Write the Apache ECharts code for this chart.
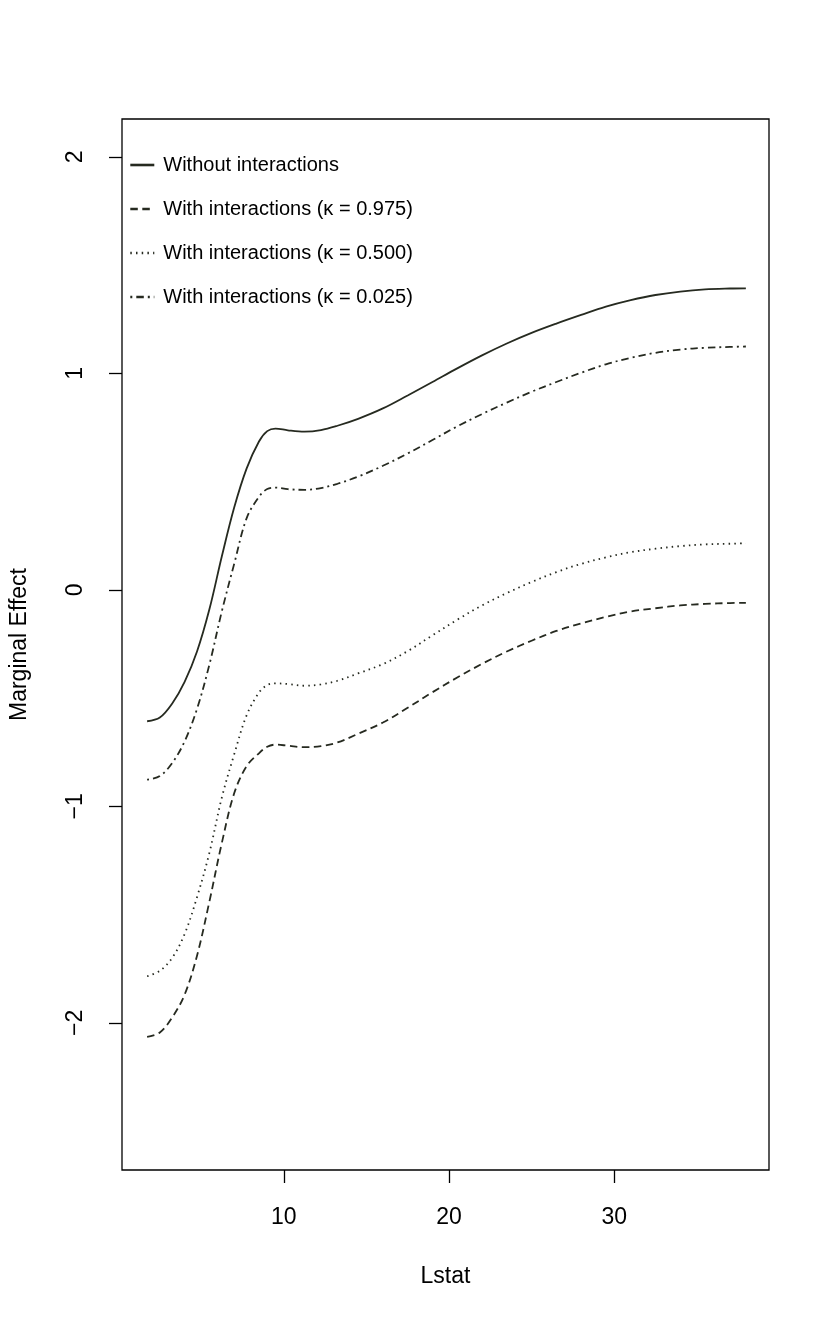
<!DOCTYPE html>
<html>
<head>
<meta charset="utf-8">
<title>Marginal Effect vs Lstat</title>
<script src="https://cdn.jsdelivr.net/npm/echarts@6.0.0/dist/echarts.min.js"></script>
<style>
    html, body { margin: 0; padding: 0; background: #fff; }
    #chart { width: 830px; height: 1322px; }
</style>
</head>
<body>
<div id="chart"></div>
<script>
// values
var lstat = [1.73, 2.5, 3.25, 4, 4.75, 5.5, 6.25, 7, 7.75, 8.5, 9, 9.5, 10.25, 11.25, 12.25, 13.25,
    14.5, 16, 17.5, 19, 20.5, 22, 23.5, 25, 26.5, 28, 29.5, 31, 32.5, 34, 35.5, 37, 37.97];

var noInteraction = [-0.607, -0.59, -0.525, -0.425, -0.285, -0.09, 0.154, 0.38, 0.56, 0.685, 0.733, 0.745,
    0.737, 0.731, 0.738, 0.758, 0.79, 0.838, 0.898, 0.96, 1.023, 1.083, 1.138, 1.187, 1.23, 1.27, 1.308,
    1.338, 1.362, 1.378, 1.388, 1.392, 1.393];

var kappa975 = [-2.065, -2.045, -1.975, -1.87, -1.69, -1.44, -1.17, -0.94, -0.815, -0.755, -0.725, -0.715,
    -0.72, -0.727, -0.722, -0.705, -0.665, -0.613, -0.545, -0.473, -0.405, -0.342, -0.285, -0.235, -0.19,
    -0.155, -0.125, -0.1, -0.085, -0.072, -0.065, -0.061, -0.06];

var kappa500 = [-1.785, -1.76, -1.7, -1.59, -1.42, -1.215, -0.96, -0.76, -0.58, -0.475, -0.44, -0.432,
    -0.435, -0.443, -0.437, -0.42, -0.386, -0.343, -0.283, -0.21, -0.138, -0.072, -0.015, 0.036, 0.082,
    0.12, 0.15, 0.174, 0.19, 0.202, 0.21, 0.213, 0.215];

var kappa025 = [-0.877, -0.86, -0.8, -0.7, -0.55, -0.345, -0.1, 0.12, 0.33, 0.43, 0.466, 0.472, 0.465,
    0.462, 0.47, 0.49, 0.523, 0.573, 0.63, 0.692, 0.755, 0.812, 0.865, 0.915, 0.96, 1.003, 1.042, 1.072,
    1.095, 1.11, 1.118, 1.122, 1.124];

var xTicks = [10, 20, 30];
var yTicks = [-2, -1, 0, 1, 2];

var seriesNames = [
    'Without interactions',
    'With interactions (\u03BA = 0.975)',
    'With interactions (\u03BA = 0.500)',
    'With interactions (\u03BA = 0.025)'
];

var FONT = '"Liberation Sans", Arial, Helvetica, sans-serif';
var INK = '#262a20';

function pairs(ys) {
    var out = [];
    for (var i = 0; i < lstat.length; i++) {
        out.push([lstat[i], ys[i]]);
    }
    return out;
}

function curve(name, ys, dash) {
    return {
        name: name,
        type: 'line',
        data: pairs(ys),
        smooth: 0.35,
        symbol: 'none',
        showSymbol: false,
        animation: false,
        lineStyle: { color: INK, width: 1.8, type: dash },
        itemStyle: { color: INK }
    };
}

var chart = echarts.init(document.getElementById('chart'), null, { renderer: 'canvas' });

chart.setOption({
    backgroundColor: '#fff',
    textStyle: { fontFamily: FONT },
    grid: {
        left: 121, right: 61, top: 119, bottom: 152,
        show: true, borderColor: '#000', borderWidth: 1.3
    },
    legend: {
        left: 129, top: 155,
        padding: 0,
        orient: 'vertical',
        itemWidth: 24, itemHeight: 14, itemGap: 24,
        itemStyle: { opacity: 0 },
        lineStyle: { width: 2.6 },
        textStyle: { fontFamily: FONT, fontSize: 20, color: '#000', lineHeight: 20, padding: [0, 0, 0, 4] },
        data: seriesNames
    },
    xAxis: {
        type: 'value',
        min: 0.21, max: 39.37,
        name: 'Lstat',
        nameLocation: 'middle',
        nameGap: 95,
        nameTextStyle: { fontFamily: FONT, fontSize: 23, color: '#000' },
        axisLine: { show: false, onZero: false },
        axisTick: { show: true, length: 13, customValues: xTicks, lineStyle: { color: '#000', width: 1.3 } },
        axisLabel: { customValues: xTicks, margin: 36, fontSize: 23, color: '#000', fontFamily: FONT },
        splitLine: { show: false }
    },
    yAxis: {
        type: 'value',
        min: -2.68, max: 2.175,
        name: 'Marginal Effect',
        nameLocation: 'middle',
        nameGap: 91,
        nameTextStyle: { fontFamily: FONT, fontSize: 23, color: '#000' },
        axisLine: { show: false, onZero: false },
        axisTick: { show: true, length: 13, customValues: yTicks, lineStyle: { color: '#000', width: 1.3 } },
        axisLabel: {
            customValues: yTicks, rotate: 90, margin: 35, fontSize: 23, color: '#000', fontFamily: FONT,
            formatter: function (v) { return v < 0 ? '\u2212' + Math.abs(v) : String(v); }
        },
        splitLine: { show: false }
    },
    series: [
        curve(seriesNames[0], noInteraction, 'solid'),
        curve(seriesNames[1], kappa975, [7.5, 4.5]),
        curve(seriesNames[2], kappa500, [1.5, 4.2]),
        curve(seriesNames[3], kappa025, [2, 4, 7.5, 4])
    ]
});
</script>
</body>
</html>
